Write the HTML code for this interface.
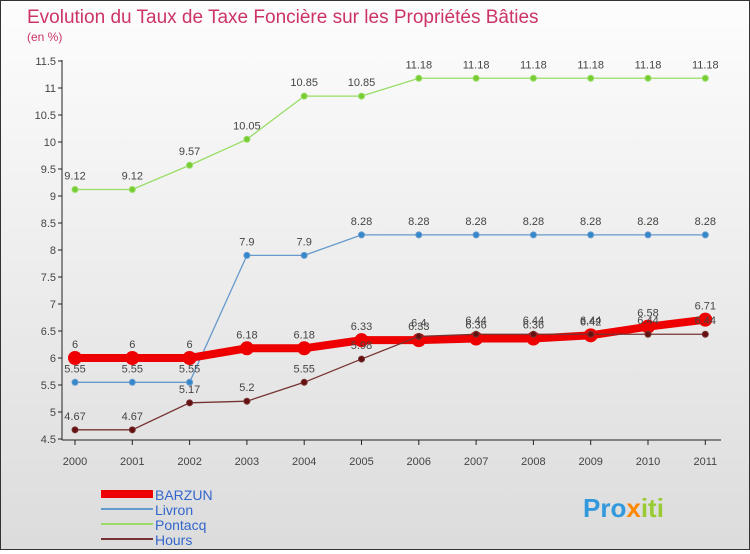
<!DOCTYPE html>
<html><head><meta charset="utf-8"><style>
body{margin:0}
#wrap{width:748px;height:548px;border:1px solid #333;background:linear-gradient(#fdfdfd,#dcdcdc);position:relative;font-family:"Liberation Sans",sans-serif}
</style></head><body>
<div id="wrap">
<svg id="c" width="748" height="548" xmlns="http://www.w3.org/2000/svg"></svg>
</div>
<script>
const years=["2000","2001","2002","2003","2004","2005","2006","2007","2008","2009","2010","2011"];
const barzun=[6,6,6,6.18,6.18,6.33,6.33,6.36,6.36,6.42,6.58,6.71];
const livron=[5.55,5.55,5.55,7.9,7.9,8.28,8.28,8.28,8.28,8.28,8.28,8.28];
const pontacq=[9.12,9.12,9.57,10.05,10.85,10.85,11.18,11.18,11.18,11.18,11.18,11.18];
const hours=[4.67,4.67,5.17,5.2,5.55,5.98,6.4,6.44,6.44,6.44,6.44,6.44];
const yTicks=[4.5,5,5.5,6,6.5,7,7.5,8,8.5,9,9.5,10,10.5,11,11.5];
const svg=document.getElementById('c');const NS="http://www.w3.org/2000/svg";
function X(i){return 74+i*57.3;}
function Y(v){return 357-(v-6)*54;}
function el(t,a,p){const e=document.createElementNS(NS,t);for(const k in a)e.setAttribute(k,a[k]);(p||svg).appendChild(e);return e;}
let t=el('text',{x:26,y:22,fill:'#cc3366','font-size':19,'font-weight':300});t.textContent="Evolution du Taux de Taxe Foncière sur les Propriétés Bâties";

t=el('text',{x:26,y:40,fill:'#cc3366','font-size':12});t.textContent="(en %)";

let a=el('line',{x1:61,y1:59,x2:61,y2:439,stroke:'#222'});

a=el('line',{x1:61,y1:439,x2:720,y2:439,stroke:'#222'});

yTicks.forEach(v=>{el('line',{x1:57,y1:Y(v),x2:61,y2:Y(v),stroke:'#222'});
const l=el('text',{x:55,y:Y(v)+4,'text-anchor':'end','font-size':11,fill:'#444'});l.textContent=String(v);
});
years.forEach((y,i)=>{el('line',{x1:X(i),y1:439,x2:X(i),y2:444,stroke:'#222'});
const l=el('text',{x:X(i),y:464,'text-anchor':'middle','font-size':11,fill:'#444'});l.textContent=y;
});
function series(d,color,w,r,name,fill){
const g=el('g',{});
el('polyline',{points:d.map((v,i)=>X(i)+','+Y(v)).join(' '),fill:'none',stroke:color,'stroke-width':w},g);
d.forEach((v,i)=>{const c=el('circle',{cx:X(i),cy:Y(v),r:r,fill:fill,stroke:color},g);

const l=el('text',{x:X(i),y:Y(v)-10,'text-anchor':'middle','font-size':11,fill:'#444'},g);l.textContent=String(v);
});}
series(pontacq,'#99dd66',1.3,3,'pontacq','#77cc33');
series(livron,'#6699cc',1.3,3,'livron','#3388cc');
series(barzun,'#ee0000',8,6.5,'barzun','#ee0000');
series(hours,'#773333',1.3,3,'hours','#661111');
const leg=[["BARZUN","#ee0000",8],["Livron","#6699cc",2],["Pontacq","#99dd66",2],["Hours","#773333",2]];
leg.forEach((L,i)=>{const yy=493+i*15;
const g=el('g',{});
el('line',{x1:100,y1:yy,x2:152,y2:yy,stroke:L[1],'stroke-width':L[2]},g);
const l=el('text',{x:154,y:yy+6,'font-size':14,fill:'#3366cc'},g);l.textContent=L[0];});
const b=el('text',{x:582,y:516,'font-size':26,'font-weight':'bold',fill:'#3399dd'});

b.innerHTML='<tspan fill="#3399dd">Pro</tspan><tspan fill="#ff8800">x</tspan><tspan fill="#99cc33">iti</tspan>';
</script>
</body></html>
